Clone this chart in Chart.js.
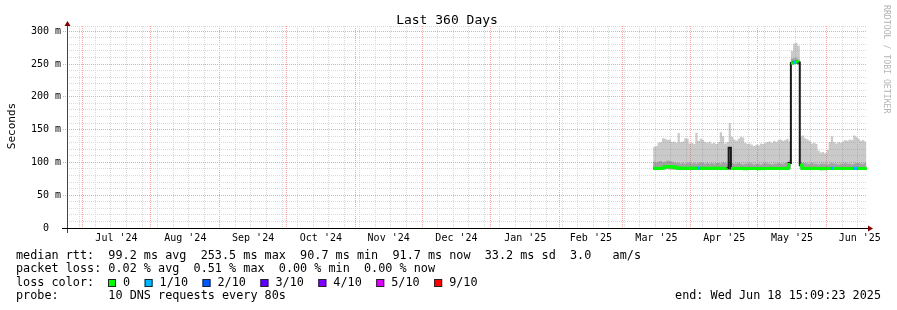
<!DOCTYPE html>
<html>
<head>
<meta charset="utf-8">
<title>Last 360 Days</title>
<script src="https://cdn.jsdelivr.net/npm/chart.js@4.4.1/dist/chart.umd.min.js"></script>
<style>
    html, body { margin: 0; padding: 0; background: #fff; }
    #wrap { width: 897px; height: 310px; }
</style>
</head>
<body>
<div id="wrap"><canvas id="rttChart" width="897" height="310"></canvas></div>
<script>
/* ---------------------------
   Time axis (days since 1 Jul 2024)
---------------------------- */
const xStartDay = -6.75;   // 23 Jun 2024
const xEndDay = 353.25;    // 18 Jun 2025
const monthStarts = [0, 31, 62, 92, 123, 153, 184, 215, 243, 274, 304, 335, 365];
const monthLabels = ["Jul '24", "Aug '24", "Sep '24", "Oct '24", "Nov '24", "Dec '24",
                     "Jan '25", "Feb '25", "Mar '25", "Apr '25", "May '25", "Jun '25"];
const firstSunday = -1;    // 30 Jun 2024

/* ---------------------------
   Value axis (milliseconds)
---------------------------- */
const yMax = 308;
const yMajorTicks = [0, 50, 100, 150, 200, 250, 300];

/* ---------------------------
   Measurements, one per day from 15 Mar 2025
---------------------------- */
const firstDataDay = 257;

const medianRtt = [
    90.8, 91.0, 91.2, 90.9, 91.3, 93.4, 93.8, 93.2, 93.6, 92.8,
    92.0, 91.1, 90.9, 91.4, 91.0, 90.8, 91.2, 91.5, 91.1, 90.9,
    91.3, 91.0, 90.8, 91.2, 91.1, 90.9, 91.0, 91.3, 91.2, 90.8,
    91.0, 91.1, 90.9, 91.2, 122.4, 90.9, 90.8, 90.6, 90.7, 91.0,
    90.8, 90.5, 90.7, 90.9, 90.6, 90.8, 90.7, 90.5, 90.9, 90.8,
    90.6, 90.7, 90.9, 91.0, 90.8, 90.6, 90.7, 90.9, 90.8, 90.7,
    91.0, 99.0, 251.5, 252.8, 253.5, 252.2, 95.5, 91.2, 90.9, 90.7,
    90.8, 91.0, 90.6, 90.8, 90.9, 90.7, 90.5, 90.8, 90.6, 90.9,
    91.1, 90.8, 90.7, 90.6, 90.8, 90.9, 90.7, 90.6, 90.8, 90.9,
    90.7, 91.0, 90.9, 90.8, 90.7, 90.8, 91.7
];

const packetLoss = [
    0, 0, 0, 0, 0, 0, 0, 0, 0, 0,
    0, 0, 0, 0, 0, 0, 0, 0, 0, 0,
    1, 0, 0, 0, 0, 0, 0, 0, 0, 0,
    0, 0, 0, 0, 0, 0, 0, 0, 0, 0,
    0, 0, 0, 0, 0, 0, 0, 0, 0, 0,
    0, 0, 0, 0, 0, 0, 0, 0, 0, 0,
    0, 1, 0, 1, 0, 0, 0, 0, 0, 0,
    0, 0, 0, 0, 0, 0, 0, 0, 0, 0,
    1, 0, 0, 0, 0, 0, 0, 0, 0, 0,
    1, 1, 0, 0, 0, 0, 0
];

const smokeLow = [
    88.6, 88.7, 88.8, 88.6, 89.0, 89.4, 89.6, 89.3, 89.2, 88.9,
    88.7, 88.6, 88.5, 88.7, 88.6, 88.5, 88.8, 88.6, 88.5, 88.7,
    88.6, 88.5, 88.7, 88.6, 88.5, 88.6, 88.8, 88.5, 88.6, 88.7,
    88.5, 88.6, 88.4, 88.6, 89.0, 88.5, 88.4, 88.3, 88.5, 88.6,
    88.4, 88.3, 88.5, 88.4, 88.3, 88.5, 88.4, 88.3, 88.5, 88.6,
    88.4, 88.3, 88.5, 88.4, 88.6, 88.4, 88.3, 88.5, 88.4, 88.5,
    88.6, 90.2, 249.0, 249.5, 250.2, 249.1, 89.5, 88.6, 88.4, 88.3,
    88.5, 88.4, 88.3, 88.5, 88.4, 88.2, 88.4, 88.3, 88.5, 88.6,
    88.4, 88.3, 88.4, 88.5, 88.3, 88.4, 88.5, 88.3, 88.4, 88.5,
    88.6, 88.4, 88.3, 88.5, 88.4, 88.3, 88.9
];

const smokeDark = [
    101, 100, 101, 102, 100, 101, 103, 102, 101, 100,
    99, 99, 98, 99, 98, 99, 100, 98, 99, 98,
    99, 100, 99, 98, 99, 98, 99, 98, 99, 99,
    98, 100, 99, 98, 100, 99, 98, 98, 99, 98,
    97, 98, 98, 99, 98, 97, 98, 98, 97, 98,
    99, 98, 98, 97, 98, 98, 99, 98, 98, 99,
    100, 103, 258, 259, 259, 257, 101, 99, 99, 98,
    98, 99, 98, 98, 97, 98, 98, 98, 97, 98,
    99, 98, 98, 97, 98, 98, 99, 98, 98, 97,
    98, 99, 99, 98, 98, 99, 98
];

const smokeHigh = [
    124, 125, 130, 131, 137, 136, 134, 135, 131, 132,
    130, 145, 131, 132, 137, 136, 129, 130, 128, 145,
    133, 136, 134, 131, 130, 132, 129, 130, 128, 131,
    146, 140, 129, 131, 160, 139, 135, 133, 136, 139,
    138, 130, 128, 129, 127, 125, 127, 126, 129, 128,
    130, 131, 132, 130, 133, 131, 134, 135, 133, 134,
    136, 132, 270, 281, 282, 278, 139, 141, 137, 135,
    133, 129, 130, 128, 118, 115, 116, 114, 119, 131,
    140, 131, 129, 131, 130, 132, 134, 133, 135, 134,
    141, 139, 136, 133, 134, 132, 133
];

/* ---------------------------
   Legend texts
---------------------------- */
const titleText = "Last 360 Days";
const unitText = "Seconds";
const statLines = [
    "median rtt:  99.2 ms avg  253.5 ms max  90.7 ms min  91.7 ms now  33.2 ms sd  3.0   am/s",
    "packet loss: 0.02 % avg  0.51 % max  0.00 % min  0.00 % now"
];
const lossLabels = ["0", "1/10", "2/10", "3/10", "4/10", "5/10", "9/10"];
const lossColors = ["#00ff00", "#00b8ff", "#0059ff", "#5e00ff", "#7e00ff", "#dd00ff", "#ff0000"];
const probeText = "probe:       10 DNS requests every 80s";
const endText = "end: Wed Jun 18 15:09:23 2025";
const watermark = "RRDTOOL / TOBI OETIKER";

/* ---------------------------
   Helpers
---------------------------- */
const MONO = '"DejaVu Sans Mono", monospace';
Chart.defaults.font.family = MONO;

const days = medianRtt.map((_, i) => firstDataDay + i);
const toPoints = arr => arr.map((v, i) => ({ x: days[i], y: v }));

const monthMids = monthLabels.map((_, i) => (monthStarts[i] + monthStarts[i + 1]) / 2);
const monthLines = monthStarts.filter(d => d >= xStartDay && d <= xEndDay);
const weekLines = [];
for (let d = firstSunday; d <= xEndDay; d += 7) weekLines.push(d);
const yMinorTicks = [];
for (let v = 10; v <= 300; v += 10) if (v % 50) yMinorTicks.push(v);
yMinorTicks.push(yMax);

const asTicks = list => list.map(v => ({ value: v }));
const RED_GRID = "#f5a3a3";
const GRAY_GRID = "#d9d9d9";

/* ---------------------------
   Frame, arrows, texts
---------------------------- */
const rrdFrame = {
    id: "rrdFrame",
    afterDraw(chart) {
        const { ctx, chartArea: a } = chart;
        ctx.save();

        // axes
        ctx.fillStyle = "#444";
        ctx.fillRect(a.left, a.top - 4, 1, a.bottom - a.top + 9);
        ctx.fillStyle = "#000";
        ctx.fillRect(a.left - 5, a.bottom, a.right - a.left + 8, 1);

        // arrow heads
        ctx.fillStyle = "#7f0000";
        ctx.beginPath();
        ctx.moveTo(a.left - 2.5, a.top);
        ctx.lineTo(a.left + 3.5, a.top);
        ctx.lineTo(a.left + 0.5, a.top - 5);
        ctx.closePath();
        ctx.fill();
        ctx.beginPath();
        ctx.moveTo(a.right + 1, a.bottom - 2.5);
        ctx.lineTo(a.right + 1, a.bottom + 3.5);
        ctx.lineTo(a.right + 6, a.bottom + 0.5);
        ctx.closePath();
        ctx.fill();

        ctx.fillStyle = "#000";
        ctx.textBaseline = "alphabetic";

        // title
        ctx.font = `13px ${MONO}`;
        ctx.textAlign = "center";
        ctx.fillText(titleText, 447, 24);

        // unit
        ctx.save();
        ctx.translate(15, 126);
        ctx.rotate(-Math.PI / 2);
        ctx.font = `11px ${MONO}`;
        ctx.fillText(unitText, 0, 0);
        ctx.restore();

        // watermark
        ctx.save();
        ctx.translate(884, 5);
        ctx.rotate(Math.PI / 2);
        ctx.font = `8.2px ${MONO}`;
        ctx.fillStyle = "#b4b4b4";
        ctx.textAlign = "left";
        ctx.fillText(watermark, 0, 0);
        ctx.restore();

        // statistics
        ctx.font = `11.8px ${MONO}`;
        ctx.textAlign = "left";
        ctx.fillText(statLines[0], 16, 258.5);
        ctx.fillText(statLines[1], 16, 272);
        ctx.fillText("loss color:", 16, 285.5);

        let bx = 108;
        lossLabels.forEach((label, i) => {
            ctx.fillStyle = lossColors[i];
            ctx.fillRect(bx, 279, 8, 8);
            ctx.strokeStyle = "#222";
            ctx.lineWidth = 1;
            ctx.strokeRect(bx + 0.5, 279.5, 7, 7);
            ctx.fillStyle = "#000";
            ctx.fillText(label, bx + 15, 285.5);
            bx += 15 + ctx.measureText(label).width + 14.5;
        });

        ctx.fillText(probeText, 16, 299);
        ctx.textAlign = "right";
        ctx.fillText(endText, 881, 299);

        ctx.restore();
    }
};

/* ---------------------------
   Chart
---------------------------- */
const gridOnly = (ticks, color, z, horizontal) => ({
    type: "linear",
    position: horizontal ? "bottom" : "left",
    min: horizontal ? xStartDay : 0,
    max: horizontal ? xEndDay : yMax,
    z,
    afterBuildTicks: s => { s.ticks = asTicks(ticks); },
    afterFit: s => { if (horizontal) s.height = 0; else s.width = 0; },
    ticks: { display: false },
    grid: {
        color,
        lineWidth: 1,
        drawTicks: !horizontal,
        tickLength: 2,
        tickColor: color,
        tickBorderDash: [1, 1]
    },
    border: { display: false, dash: [1, 1] }
});

new Chart(document.getElementById("rttChart"), {
    type: "line",
    data: {
        datasets: [
            {
                label: "median",
                data: toPoints(medianRtt),
                stepped: true,
                borderWidth: 3,
                borderColor: lossColors[0],
                segment: {
                    borderColor: c => Math.abs(c.p1.parsed.y - c.p0.parsed.y) > 15
                        ? "rgba(0,0,0,0)"
                        : lossColors[packetLoss[c.p0DataIndex]]
                },
                fill: false,
                order: 0
            },
            {
                label: "median line",
                data: toPoints(medianRtt),
                stepped: true,
                borderWidth: 2,
                borderColor: "#1a1a1a",
                fill: false,
                order: 1
            },
            {
                label: "smoke low",
                data: toPoints(smokeLow),
                stepped: true,
                borderWidth: 0,
                fill: false,
                order: 5
            },
            {
                label: "smoke dark",
                data: toPoints(smokeDark),
                stepped: true,
                borderWidth: 0,
                backgroundColor: "rgba(70,70,70,0.3)",
                fill: 2,
                order: 3
            },
            {
                label: "smoke",
                data: toPoints(smokeHigh),
                stepped: true,
                borderWidth: 0,
                backgroundColor: "rgba(128,128,128,0.42)",
                fill: 2,
                order: 4
            }
        ]
    },
    options: {
        responsive: false,
        animation: false,
        devicePixelRatio: 1,
        layout: { padding: { top: 26, right: 30, bottom: 0, left: 0 } },
        elements: {
            point: { radius: 0, hoverRadius: 0, hitRadius: 0 },
            line: { tension: 0 }
        },
        plugins: {
            legend: { display: false },
            tooltip: { enabled: false },
            title: { display: false }
        },
        scales: {
            x: {
                type: "linear",
                position: "bottom",
                min: xStartDay,
                max: xEndDay,
                afterBuildTicks: s => { s.ticks = asTicks(monthMids); },
                afterFit: s => { s.height = 82; },
                ticks: {
                    callback: (v, i) => monthLabels[i],
                    font: { size: 10 },
                    color: "#000",
                    autoSkip: false,
                    maxRotation: 0,
                    padding: 4
                },
                grid: { display: false, drawTicks: false },
                border: { display: false }
            },
            xWeek: gridOnly(weekLines, GRAY_GRID, -1, true),
            xMonth: gridOnly(monthLines, RED_GRID, 0, true),
            y: {
                type: "linear",
                position: "left",
                min: 0,
                max: yMax,
                afterBuildTicks: s => { s.ticks = asTicks(yMajorTicks); },
                afterFit: s => { s.width = 67; },
                ticks: {
                    callback: v => v === 0 ? "0  " : `${v} m`,
                    font: { size: 10 },
                    color: "#000",
                    padding: 2
                },
                grid: {
                    color: RED_GRID,
                    lineWidth: 1,
                    drawTicks: true,
                    tickLength: 4,
                    tickColor: RED_GRID,
                    tickBorderDash: [1, 1]
                },
                border: { display: false, dash: [1, 1] }
            },
            yMinor: gridOnly(yMinorTicks, GRAY_GRID, -1, false)
        }
    },
    plugins: [rrdFrame]
});
</script>
</body>
</html>
